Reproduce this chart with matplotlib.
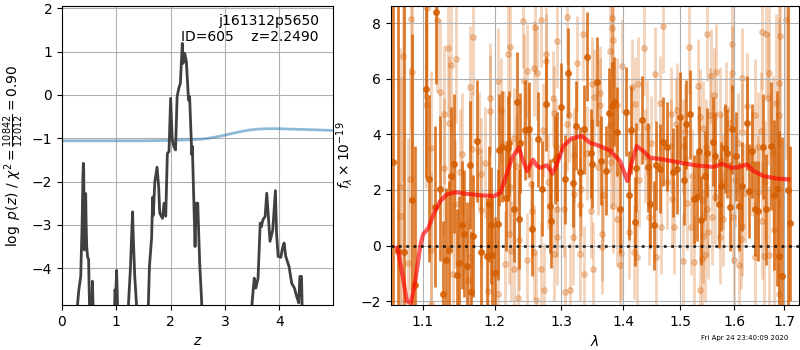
import matplotlib
matplotlib.use("Agg")
import matplotlib.pyplot as plt
from matplotlib.ticker import FormatStrFormatter, NullLocator

# p(z) curve (left panel), values below -4.85 fall off the axis
zgrid = [0.00, 0.26, 0.285, 0.31, 0.345, 0.37, 0.385, 0.393, 0.40, 0.411, 0.425, 0.436,
         0.445, 0.455, 0.47, 0.49, 0.50, 0.52, 0.545, 0.56, 0.575, 0.60,
         0.95, 0.975, 0.99, 1.005, 1.02, 1.04,
         1.20, 1.225, 1.26, 1.29, 1.30, 1.31, 1.34, 1.37, 1.40,
         1.56, 1.59, 1.61, 1.65, 1.67, 1.68, 1.71, 1.75, 1.78, 1.80, 1.85, 1.88, 1.91,
         1.94, 1.97, 2.00, 2.03, 2.06, 2.09, 2.12, 2.15, 2.18, 2.215, 2.23, 2.26, 2.29,
         2.33, 2.35, 2.39, 2.40, 2.45, 2.47, 2.50, 2.535, 2.57, 2.60,
         3.47, 3.50, 3.54, 3.57, 3.61, 3.65, 3.67, 3.70, 3.74, 3.77, 3.80, 3.83, 3.88,
         3.93, 3.95, 3.98, 4.03, 4.06, 4.09, 4.12, 4.18, 4.23, 4.28, 4.32, 4.36, 4.38,
         4.41, 4.42, 4.45, 4.99]
logpz = [-6, -6, -4.85, -4.5, -4.19, -3.0, -1.9, -1.58, -1.75, -3.58, -2.6, -2.28,
         -3.0, -3.5, -3.73, -3.8, -4.5, -5.5, -5.0, -4.3, -5.0, -6,
         -6, -4.5, -4.6, -4.05, -4.7, -6,
         -6, -4.8, -4.0, -3.0, -2.7, -3.2, -4.2, -4.8, -6,
         -6, -4.85, -3.96, -3.3, -2.36, -2.78, -2.0, -1.67, -2.12, -2.73, -2.85, -2.5, -2.8,
         -1.35, -1.31, -0.08, -1.04, -1.19, -1.27, -0.04, 0.15, 0.27, 1.19, 0.73, 0.96, 0.77,
         -0.12, -0.04, -1.38, -1.19, -3.5, -2.5, -2.5, -3.88, -4.73, -6,
         -6, -4.8, -4.23, -4.46, -4.23, -2.96, -3.04, -2.88, -2.81, -2.27, -2.81, -3.38, -3.12,
         -2.21, -3.19, -3.73, -3.75, -3.54, -3.42, -3.73, -3.96, -4.35, -4.46, -4.65, -4.8,
         -4.19, -4.19, -4.8, -6, -6]

prior_z = [0, 0.5, 1.0, 1.5, 2.0, 2.3, 2.6, 2.8, 3.0, 3.2, 3.4, 3.6, 3.8, 4.0, 4.2, 4.5, 4.99]
prior_logp = [-1.06, -1.06, -1.06, -1.06, -1.05, -1.04, -1.02, -0.98, -0.93, -0.87, -0.82,
              -0.79, -0.78, -0.78, -0.79, -0.80, -0.82]

# spectrum (right panel), first beam
wave1 = [1.0610, 1.0679, 1.0757, 1.0864, 1.0895, 1.1040, 1.1085, 1.1160, 1.1182, 1.1227,
         1.1273, 1.1308, 1.1349, 1.1377, 1.1418, 1.1465, 1.1487, 1.1534, 1.1562, 1.1604,
         1.1640, 1.1665, 1.1687, 1.1748, 1.1795, 1.1887, 1.1910, 1.1948, 1.1958, 1.2000,
         1.2038, 1.2063, 1.2096, 1.2160, 1.2194, 1.2209, 1.2272, 1.2317, 1.2357, 1.2372,
         1.2442, 1.2506, 1.2555, 1.2641, 1.2706, 1.2767, 1.2820, 1.2844, 1.2897, 1.2938,
         1.2991, 1.3058, 1.3105, 1.3184, 1.3237, 1.3296, 1.3360, 1.3413, 1.3468, 1.3493,
         1.3564, 1.3634, 1.3721, 1.3771, 1.3816, 1.3844, 1.3899, 1.3955, 1.4051, 1.4097,
         1.4141, 1.4199, 1.4226, 1.4325, 1.4423, 1.4469, 1.4528, 1.4574, 1.4634, 1.4687,
         1.4763, 1.4870, 1.4942, 1.5001, 1.5063, 1.5110, 1.5171, 1.5255, 1.5305, 1.5347,
         1.5378, 1.5459, 1.5496, 1.5603, 1.5646, 1.5710, 1.5760, 1.5824, 1.5874, 1.5920,
         1.5964, 1.6047, 1.6093, 1.6144, 1.6242, 1.6295, 1.6340, 1.6407, 1.6472, 1.6557,
         1.6625, 1.6717, 1.6792, 1.6852, 1.6893, 1.6940, 1.7075, 1.7115]
flux1 = [3.0, -0.19, -0.23, 1.63, -1.41, 5.62, 2.41, 1.39, 8.42, 2.05,
         -1.73, -0.53, -0.17, 2.50, 2.95, -1.07, -0.62, 0.73, 0.43, -0.74,
         2.89, -1.67, 0.34, 3.76, -0.24, -0.38, 1.49, 0.73, -0.35, -0.98,
         0.77, 3.44, 3.56, 1.72, 3.50, 3.68, 1.30, 5.18, 0.97, 3.68,
         4.16, 4.18, 0.61, 3.82, 2.05, 5.09, 1.42, 0.89, 3.08, 3.22,
         4.97, 2.39, 6.22, 2.26, 4.31, 2.65, 4.19, 6.80, 3.32, 2.95,
         5.90, 3.05, 2.69, 4.78, 5.02, 5.18, 4.10, 1.33, 4.82, 1.81,
         4.16, 0.85, 2.80, 4.52, 2.81, 1.51, 0.73, 2.89, 2.77, 3.74,
         3.56, 2.63, 2.75, 4.64, 2.35, 4.37, 4.73, 1.66, 1.75, 3.41,
         0.91, 2.51, 3.34, 3.74, 3.22, 1.51, 2.14, 3.50, 3.32, 1.39,
         4.19, 3.22, 1.42, 2.14, 4.42, 1.96, 3.40, 1.33, 1.25, 3.56,
         1.30, 3.58, 1.81, 2.05, -0.38, -1.11, 2.0, 0.8]
err1 = [9.0, 9.0, 9.0, 6.0, 5.0, 3.2, 3.0, 2.9, 2.6, 2.6,
        2.6, 2.6, 2.5, 2.5, 2.5, 2.4, 2.4, 2.3, 2.3, 2.3,
        2.3, 2.2, 2.2, 2.2, 2.1, 2.1, 2.1, 2.1, 2.1, 2.0,
        2.0, 2.0, 2.0, 1.9, 1.9, 1.9, 1.9, 1.8, 1.8, 1.8,
        1.8, 1.7, 1.7, 1.7, 1.7, 1.7, 1.7, 1.7, 1.6, 1.6,
        1.6, 1.6, 1.6, 1.6, 1.6, 1.6, 1.6, 1.6, 1.6, 1.6,
        1.6, 1.6, 1.6, 1.6, 1.6, 1.6, 1.6, 1.6, 1.6, 1.6,
        1.6, 1.6, 1.6, 1.6, 1.6, 1.6, 1.6, 1.6, 1.6, 1.6,
        1.6, 1.6, 1.6, 1.6, 1.6, 1.6, 1.6, 1.6, 1.6, 1.6,
        1.6, 1.6, 1.6, 1.6, 1.6, 1.6, 1.6, 1.6, 1.6, 1.6,
        1.6, 1.6, 1.6, 1.6, 1.7, 1.7, 1.7, 1.7, 1.8, 1.9,
        2.0, 2.3, 2.7, 3.5, 4.5, 5.0, 7.0, 2.8]

# second beam (drawn faint)
wave2 = [1.0700, 1.0722, 1.0744, 1.0808, 1.0829, 1.0851, 1.0856, 1.1043, 1.1050, 1.1063,
         1.1106, 1.1110, 1.1115, 1.1196, 1.1227, 1.1281, 1.1285, 1.1341, 1.1349, 1.1377,
         1.1410, 1.1442, 1.1446, 1.1500, 1.1537, 1.1619, 1.1640, 1.1645, 1.1677, 1.1687,
         1.1767, 1.1795, 1.1805, 1.1853, 1.1901, 1.1925, 1.1930, 1.2038, 1.2049, 1.2087,
         1.2138, 1.2142, 1.2184, 1.2209, 1.2224, 1.2226, 1.2228, 1.2272, 1.2282, 1.2307,
         1.2342, 1.2357, 1.2406, 1.2421, 1.2466, 1.2476, 1.2481, 1.2531, 1.2541, 1.2581,
         1.2585, 1.2591, 1.2608, 1.2629, 1.2682, 1.2686, 1.2722, 1.2734, 1.2758, 1.2762,
         1.2795, 1.2871, 1.2885, 1.2889, 1.2915, 1.2928, 1.2932, 1.2938, 1.3039, 1.3058,
         1.3080, 1.3094, 1.3121, 1.3136, 1.3189, 1.3199, 1.3203, 1.3243, 1.3296, 1.3300,
         1.3305, 1.3349, 1.3353, 1.3404, 1.3468, 1.3493, 1.3510, 1.3520, 1.3580, 1.3613,
         1.3617, 1.3651, 1.3655, 1.3668, 1.3778, 1.3788, 1.3792, 1.3816, 1.3820, 1.3833,
         1.3837, 1.3844, 1.3899, 1.3903, 1.3944, 1.3966, 1.3983, 1.4097, 1.4152, 1.4180,
         1.4209, 1.4237, 1.4262, 1.4279, 1.4365, 1.4369, 1.4411, 1.4440, 1.4481, 1.4557,
         1.4574, 1.4645, 1.4649, 1.4692, 1.4763, 1.4834, 1.4838, 1.4852, 1.4882, 1.4912,
         1.4942, 1.5051, 1.5055, 1.5074, 1.5121, 1.5153, 1.5192, 1.5209, 1.5244, 1.5318,
         1.5355, 1.5365, 1.5391, 1.5397, 1.5415, 1.5419, 1.5447, 1.5478, 1.5482, 1.5496,
         1.5509, 1.5541, 1.5571, 1.5575, 1.5622, 1.5636, 1.5665, 1.5729, 1.5733, 1.5760,
         1.5792, 1.5796, 1.5854, 1.5920, 1.5951, 1.5964, 1.5983, 1.6002, 1.6014, 1.6079,
         1.6093, 1.6132, 1.6144, 1.6148, 1.6158, 1.6213, 1.6242, 1.6340, 1.6407, 1.6411,
         1.6460, 1.6472, 1.6528, 1.6537, 1.6541, 1.6585, 1.6600, 1.6630, 1.6661, 1.6680,
         1.6693, 1.6771, 1.6792, 1.6834, 1.6880, 1.6884, 1.6888, 1.6912, 1.7025]
flux2 = [2.11, 1.06, 6.82, -0.62, 2.41, 8.16, 6.26, 5.06, 5.40, 8.54,
         3.50, -0.17, -2.09, 8.12, 5.54, 4.73, 2.80, 7.12, 4.42, 6.50,
         -1.01, 1.49, 6.71, 2.63, 3.29, -1.25, 5.72, -0.41, 3.47, 7.52,
         3.41, 2.59, 1.27, 2.98, -1.63, 5.30, 4.85, -1.75, 5.93, 4.85,
         3.65, -0.65, 6.89, 0.41, 7.14, 2.11, -0.19, -0.83, 3.86, 2.86,
         -1.89, 0.19, 8.10, 5.93, 6.29, -0.53, 4.10, 2.23, 1.25, 6.38,
         -0.23, 7.88, -1.95, 6.22, 8.12, -0.86, 4.16, -1.61, 6.89, 6.65,
         2.29, 5.30, 4.78, -0.31, 3.56, 1.30, 0.29, 7.38, 1.30, -1.67,
         4.37, 8.22, 4.70, -1.61, 0.29, 3.26, 1.87, 6.56, 1.45, -0.31,
         2.05, 7.62, -1.01, 3.34, 1.25, 5.81, -0.84, 5.36, 2.81, 5.50,
         5.06, 0.43, -0.05, 1.81, 7.02, 4.34, 3.02, 8.18, 7.82, 7.40,
         1.42, 3.22, 5.06, 0.97, -0.71, -0.26, 6.46, 0.49, 5.72, -0.23,
         5.09, -0.43, 5.81, 2.35, 7.10, 3.22, 4.25, 1.01, 3.68, 6.17,
         -0.43, 5.12, 0.67, 7.90, 2.29, 4.73, 3.58, 1.66, 0.67, 4.37,
         4.88, 3.58, -0.55, 4.13, 1.54, 7.16, 0.65, 2.50, -0.59, 5.74,
         4.64, -1.61, 1.63, -0.50, 4.22, 0.34, -0.35, 3.56, 1.30, 7.62,
         0.49, 4.70, 6.10, 1.01, 5.42, 1.75, 6.26, 4.73, 0.31, 3.08,
         2.29, 0.97, 4.90, 4.40, 6.22, 7.26, 1.03, -0.53, 2.35, 3.68,
         -0.71, 0.22, 6.02, 0.70, 4.10, 1.90, 5.02, 2.95, 4.70, -0.43,
         3.53, 1.93, 4.13, 7.70, 0.89, -0.38, 2.29, 7.62, 5.30, -0.35,
         6.22, 3.32, 0.55, 5.12, 5.84, -1.75, 4.70, 7.54, 8.12]
err2 = [5.0, 5.0, 4.5, 4.5, 4.0, 4.0, 4.0, 3.0, 3.0, 3.0,
        2.8, 2.8, 2.8, 2.6, 2.6, 2.5, 2.5, 2.5, 2.4, 2.4,
        2.4, 2.3, 2.3, 2.3, 2.2, 2.2, 2.2, 2.1, 2.1, 2.1,
        2.1, 2.0, 2.0, 2.0, 2.0, 2.0, 2.0, 1.9, 1.9, 1.9,
        1.9, 1.9, 1.8, 1.8, 1.8, 1.8, 1.8, 1.8, 1.8, 1.8,
        1.8, 1.8, 1.7, 1.7, 1.7, 1.7, 1.7, 1.7, 1.7, 1.7,
        1.7, 1.7, 1.7, 1.7, 1.7, 1.7, 1.7, 1.7, 1.7, 1.7,
        1.7, 1.7, 1.7, 1.7, 1.7, 1.7, 1.7, 1.7, 1.7, 1.7,
        1.7, 1.7, 1.7, 1.7, 1.7, 1.7, 1.7, 1.7, 1.7, 1.7,
        1.7, 1.7, 1.7, 1.7, 1.7, 1.7, 1.7, 1.7, 1.7, 1.7,
        1.7, 1.7, 1.7, 1.7, 1.7, 1.7, 1.7, 1.7, 1.7, 1.7,
        1.7, 1.7, 1.7, 1.7, 1.7, 1.7, 1.7, 1.7, 1.7, 1.7,
        1.7, 1.7, 1.7, 1.7, 1.7, 1.7, 1.7, 1.7, 1.7, 1.7,
        1.7, 1.7, 1.7, 1.7, 1.7, 1.7, 1.7, 1.7, 1.7, 1.7,
        1.7, 1.7, 1.7, 1.7, 1.7, 1.7, 1.7, 1.7, 1.7, 1.7,
        1.7, 1.7, 1.7, 1.7, 1.7, 1.7, 1.7, 1.7, 1.7, 1.7,
        1.7, 1.7, 1.7, 1.7, 1.7, 1.7, 1.7, 1.7, 1.7, 1.7,
        1.7, 1.7, 1.7, 1.7, 1.7, 1.7, 1.7, 1.7, 1.7, 1.8,
        1.8, 1.8, 1.8, 1.8, 1.8, 1.8, 1.9, 1.9, 2.0, 2.0,
        2.0, 2.0, 2.1, 2.1, 2.1, 2.2, 2.2, 2.3, 2.4, 2.5,
        2.5, 2.8, 3.0, 3.2, 3.5, 3.5, 3.5, 4.0, 5.0]

# best-fit model
model_wave = [1.0666, 1.0690, 1.0751, 1.0794, 1.0847, 1.0903, 1.0969, 1.1006, 1.1079, 1.1146,
              1.1236, 1.1327, 1.1441, 1.1603, 1.1790, 1.1984, 1.2080, 1.2153, 1.2251, 1.2349,
              1.2399, 1.2474, 1.2563, 1.2624, 1.2668, 1.2776, 1.2860, 1.2927, 1.3031, 1.3162,
              1.3321, 1.3455, 1.3618, 1.3783, 1.3949, 1.4073, 1.4146, 1.4232, 1.4347, 1.4463,
              1.4699, 1.4997, 1.5301, 1.5611, 1.5768, 1.5958, 1.6087, 1.6249, 1.6379, 1.6578,
              1.6843, 1.7080]
model_flux = [-0.08, -0.32, -1.29, -2.0, -2.07, -1.29, -0.02, 0.40, 0.64, 1.12,
              1.60, 1.84, 1.92, 1.86, 1.81, 1.78, 1.90, 2.44, 3.16, 3.52,
              3.16, 2.68, 3.09, 2.86, 2.80, 2.89, 2.59, 2.92, 3.58, 3.86,
              3.94, 3.70, 3.58, 3.42, 3.04, 2.32, 2.98, 3.58, 3.40, 3.16,
              3.10, 2.98, 2.88, 2.83, 2.94, 2.80, 2.82, 2.92, 2.68, 2.50,
              2.41, 2.38]

orange = "#d55e00"

fig = plt.figure(figsize=(8, 3.5), dpi=100)

ax1 = fig.add_axes([0.0775, 0.1286, 0.33875, 0.854])
ax1.plot(prior_z, prior_logp, color="#1f77b4", alpha=0.5, lw=2)
ax1.plot(zgrid, logpz, color="0.25", lw=2)
ax1.set_xlim(0, 4.99)
ax1.set_ylim(-4.85, 2.05)
ax1.set_xticks([0, 1, 2, 3, 4])
ax1.grid(True)
ax1.set_xlabel(r"$z$")
ax1.set_ylabel(r"$\log\ p(z)$ / $\chi^2=\frac{10842}{12012}=0.90$")
ax1.text(0.948, 0.972, "j161312p5650\nID=605    z=2.2490", transform=ax1.transAxes,
         ha="right", va="top", fontsize=10, linespacing=1.1)

ax2 = fig.add_axes([0.48875, 0.1286, 0.51, 0.854])
ax2.errorbar(wave2, flux2, yerr=err2, color=orange, alpha=0.27, fmt="o", ms=4,
             elinewidth=2, capsize=0, linestyle="none", zorder=1)
ax2.errorbar(wave1, flux1, yerr=err1, color=orange, alpha=0.8, fmt="o", ms=4,
             elinewidth=2, capsize=0, linestyle="none", zorder=2)
ax2.plot(model_wave, model_flux, color="r", alpha=0.65, lw=3, zorder=3)
ax2.axhline(0, color="k", linestyle=":", lw=2, alpha=0.8, zorder=4)
ax2.set_xscale("log")
ax2.set_xlim(1.059, 1.730)
ax2.set_ylim(-2.14, 8.62)
ax2.set_xticks([1.1, 1.2, 1.3, 1.4, 1.5, 1.6, 1.7])
ax2.xaxis.set_major_formatter(FormatStrFormatter("%.1f"))
ax2.xaxis.set_minor_locator(NullLocator())
ax2.grid(True)
ax2.set_xlabel(r"$\lambda$")
ax2.set_ylabel(r"$f_\lambda \times 10^{-19}$")

fig.text(0.876, 0.029, "Fri Apr 24 23:40:09 2020", fontsize=5)

fig.savefig("out.png", dpi=100)
